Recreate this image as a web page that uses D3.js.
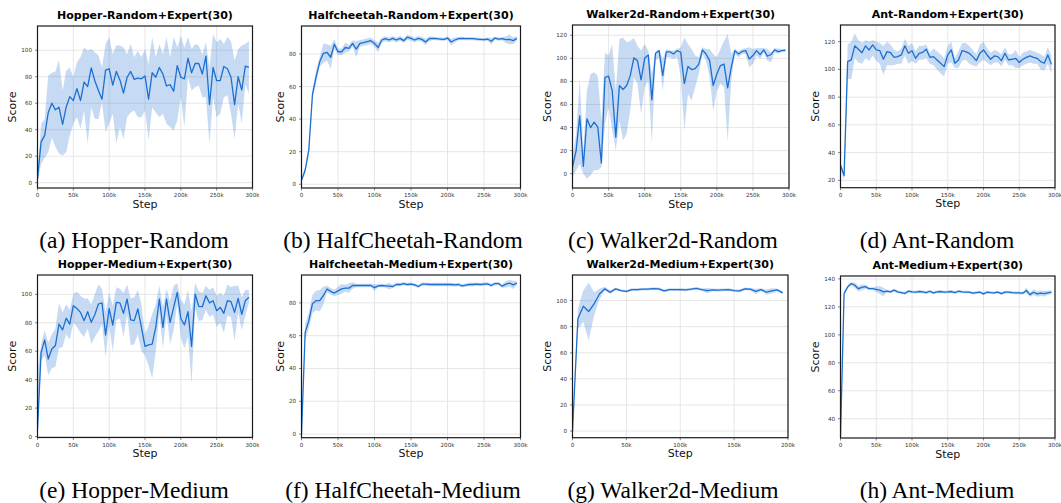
<!DOCTYPE html>
<html>
<head>
<meta charset="utf-8">
<script src="https://cdn.jsdelivr.net/npm/d3@7"></script>
<style>
  body { margin: 0; background: #fff; }
  svg { display: block; }
</style>
</head>
<body>
<div id="chart"></div>
<script>
// ---- data (score every 5k steps) ----
const steps300 = d3.range(0, 300000, 5000);
const steps200 = d3.range(0, 200000, 5000);

const xTicks300 = [0, 50000, 100000, 150000, 200000, 250000, 300000];
const xTicks200 = [0, 50000, 100000, 150000, 200000];

// (a) Hopper-Random
const hopRandMean = [3,30.6,35.7,53,60,55,57,44,57,65,62,71,62,76,72.6,86.7,77,69.6,63,85,86,73.6,84,77.6,67.6,79.6,84,78,79,78.4,80.6,63,83,79.6,87,82,73,74,69,88.4,79.6,78.4,94,83,90,90,82,95.5,59,87,77,77,87.7,86,79.6,59,80,70,88,87];
const hopRandLo = [0,14,19,23,34,27,22,20.6,23,35.7,44.5,49.5,40.7,54.5,29.4,57,48,48,60.8,38,44.5,52,29.4,42,33,49.5,53,54.5,49.5,49.5,54.5,32,57,53,49.5,52,44.5,42,39.4,47,64.5,42,79.6,69.6,72,73.4,64.5,64.5,29.4,64.5,49.5,52,64.5,66,52,33,59.5,44.5,74.6,67];
const hopRandHi = [5,44.5,48,81,83,84,92.7,69.6,84.6,87,79.6,91,94.7,102,99.7,101,98.5,96,87,104.8,110,97,103.5,103.5,102,97,104.8,94.7,99.7,94.7,101,89.7,110,94.7,104.8,97,110,94.7,110,102,111,102,110,101,104.8,103.5,97,106,87,112,106,108.5,104.8,110,107,92,101,103.5,104.8,107];
const hopRandTicks = [0, 20, 40, 60, 80, 100];

// (b) HalfCheetah-Random
const hcRandMean = [2.5,8.6,21,55,66,75.3,80.4,81,78,86,81.4,81.4,84,83.5,86.5,83,86.5,87,87.6,88.2,86.5,84,88.6,89.4,88.6,89.6,88.6,89.6,88.2,90.3,89.6,88.6,89.6,89,87.4,89.4,89.6,89.4,89.2,89,89.8,87.4,88.6,89.4,89.6,89.4,89.4,89.4,89.2,89,88.8,89.2,87.8,89.8,89.2,89.4,88.8,89,88.2,89.6];
const hcRandErr = [1,2,3,3,4,3,6,5,7,3,2,2,3,2,2,5,2,2,2,2,2,3,1.5,1.5,1.5,1.5,1.5,1.5,1.5,1.5,1.5,1.5,1.5,1.5,2,1.5,1,1,1,1,1,2,1.5,1,1,1,1,1,1,1,1,1,2,1,1,1,2,3,2,1.5];
const hcRandTicks = [0, 20, 40, 60, 80];

// (c) Walker2d-Random
const wkRandMean = [5.8,20,50,6.3,47.6,40,44.7,40.4,9.2,83.6,84.5,72,31.7,76.4,73,76.4,85,100.4,98,81.3,100,103,64,104.4,106.7,85,105.6,105.6,103.8,106.7,105.3,78,93,90.3,91,95,107.3,103.8,98,76.4,86.5,93.7,95,74.4,92.3,106.7,103.8,106,106.7,99.5,102.4,106.7,103.3,107.3,101.8,103.3,107.3,105.8,106.7,107];
const wkRandLo = [-3,3,8.7,0,-4.3,-1.4,3,3,5.8,43,57.7,37.5,20,46,28.8,34.6,54.8,83.6,78,52,75,80.8,26,98,101,72,101,101,99.5,101,83.6,37.5,69,63.5,75,86.5,103.8,98,83.6,54.8,72,78,75,27.4,80.8,103.8,101,103.8,103.8,92.3,95,102.4,99.5,105,98,96.6,105,103.8,105.5,106];
const wkRandHi = [15,34.6,82,20,72,86.5,88,85,46,105,102.4,112.5,72,116.8,118,114,115,117.7,111,106.7,112.5,106.7,86.5,105,108,99.5,108,106.7,106.7,108,109.6,118,112.5,108,102.4,101,109.6,108,108,103.8,101,108,115,121,103.8,108,106,108,108.7,109.6,108,109,109,109,108,105,109,108.5,108,108];
const wkRandTicks = [0, 20, 40, 60, 80, 100, 120];

// (d) Ant-Random
const antRandMean = [31,23.4,105.6,106.8,117,114.5,112,117,114,117.6,114,113.5,107.3,112.8,112,108.7,109.2,110.4,117,111.6,113.5,108,111.6,112.3,114.5,108.7,109.2,106.8,104.4,102,110.4,114,104.4,106.8,113.5,112.8,111.6,109.2,106.3,111.6,114,110.4,107.3,109.7,109.2,106.3,111.6,106.8,107.3,108,104.9,107.3,108.7,109.7,108.7,108,105.6,104.4,110.4,103.6];
const antRandLo = [28,20,93,93,108,105,104,108,106,110,106,104,96,103,103,103,104,104,110,104,106,104,107,107,108,104,103,100,97,95,104,105,101,101,106,107,104,103,102,105,107,105,103,105,105,102,107,103,103,101,101,103,104,105,104,104,100,99,104,97];
const antRandHi = [33,26,118,120,126,121,119,121,120,121,120,119,117,120,118,114,113,115,122,117,119,113,117,117,118,112,115,113,111,108,117,120,108,113,119,119,117,114,111,118,120,115,112,114,113,111,116,111,111,114,109,112,113,114,113,112,111,109,116,110];
const antRandTicks = [20, 40, 60, 80, 100, 120];

// (e) Hopper-Medium
const hopMedMean = [5,59,68,54.5,61.5,64,79,75,83.3,79,92,90,87.3,81.5,87.8,80.3,85.7,93.2,94,71.4,90,78.4,94.4,94,86.6,96.7,82,81.5,89.7,76.8,63.4,64.5,65,76.8,96.7,76.8,96.7,80.3,90.8,101.4,83,78.4,87.8,63.4,100.2,91.5,91.3,99,94,95.5,88.5,90.8,86.6,95.5,94.8,87.3,97.2,86,95.5,98];
const hopMedLo = [0,53,57,43,48,49,62,63,72,68,80,77,73,70,76,65,70,74,79,56,78,60,82,83,70,86,64,65,72,60,57,50,41,60,86,62,86,65,75,93,70,62,70,37,90,81,82,89,84,86,77,80,73,85,84,67,87,75,85,94];
const hopMedHi = [45,65,75,66,72,76,94,87,93,89,100,102,99,97,97,93,100,107,104,88,101,92,105,104,101,107,97,98,103,93,72,78,86,93,106,91,104,95,106,108,96,93,103,88,108,102,101,106,103,105,99,101,99,107,105,106,106,98,103,103];
const hopMedTicks = [0, 20, 40, 60, 80, 100];

// (f) HalfCheetah-Medium
const hcMedMean = [0,62,69,79.4,81.4,81.4,84.5,88.5,87,86,87.3,88.5,89,89,90.6,90.6,90.6,90.6,90.6,90.6,89.3,90.4,90.6,90.4,90.2,90,91.2,91.2,91.8,91.2,91.4,91,90,91.4,91.4,91.2,91.2,91.2,91.2,91.2,91.2,91.2,91,91.2,90.4,90.8,91.2,91.2,91.4,91.2,91.4,91.6,90.6,91.8,91.8,90.2,91.4,92,91,92];
const hcMedErr = [0.5,5,5,5.5,6,6.5,5.5,2,2,2,2.5,3,2,3,2,1,1,1,1,1,2,1,1,1,2,1,1,1,1,1,1,1,1,1,1,1,1,1,1,1,1,1,1,1,1,1,1,1,1,1,1,1,1,1,1,1,2,2,2.5,1];
const hcMedTicks = [0, 20, 40, 60, 80];

// (g) Walker2d-Medium (0 - 195k)
const wkMedMean = [0,86,95.7,91.6,97.4,105,109,106.4,109,107.7,107,108.4,108.4,108.7,108.7,109.2,109,107.4,108.4,108.4,108.4,108.2,108.7,109.4,108.4,107.7,108.2,108,108.2,108.4,107.7,107.4,109,108.7,107,108.4,106.4,107.4,108.2,105.9];
const wkMedErr = [0.5,8,12,22,9,4,1.5,1.5,1,1,1,1,1,1,1,1,1,1,1,1,1,1,1,1,1,2,1,1,1,1,1,1,1,1,2,1,2,2,1,1];
const wkMedTicks = [0, 20, 40, 60, 80, 100];

// (h) Ant-Medium
const antMedMean = [27,129.5,134.3,136.7,135.5,133,134,134.5,133,133,132.6,132,130.7,131.2,130.7,132,130.7,130.2,129.7,131.2,130.7,130.5,131,130.7,130.2,131.2,130,130.7,131,130.5,130.7,131,130.2,131.2,130.7,130.5,130.5,129.8,130.2,130.5,129.3,130.5,130.2,130,130.5,129.5,130.5,130.5,130.2,130,130,129.8,131.7,128.8,130.5,129.3,129.8,129.5,130,130.5];
const antMedErr = [2,1,1,1,2,2,2,1.5,1,1,2,3,3,1,1,1,1,1,1,1,1,1,1,1,1,1,1,1,1,1,1,1,1,1,1,1,1,1,1,1,1,1,1,1,1,1,1,1,1,1,1,1,2,1.5,2,2,2,2,1.5,1.5];
const antMedTicks = [40, 60, 80, 100, 120, 140];

// ---- helpers ----
function withErr(mean, err) {
  return { lo: mean.map((m, i) => m - err[i]), hi: mean.map((m, i) => m + err[i]) };
}
const hcRandBand = withErr(hcRandMean, hcRandErr);
const hcMedBand = withErr(hcMedMean, hcMedErr);
const wkMedBand = withErr(wkMedMean, wkMedErr);
const antMedBand = withErr(antMedMean, antMedErr);

// box = plot area [x, y, w, h]; capX = centre of the sub-figure caption
const panels = [
  { title: "Hopper-Random+Expert(30)", caption: "(a) Hopper-Random", steps: steps300, xTicks: xTicks300, xMax: 300000,
    mean: hopRandMean, lo: hopRandLo, hi: hopRandHi, yDomain: [-4, 118.3], yTicks: hopRandTicks, box: [37.5, 26, 215, 162], capX: 134 },
  { title: "Halfcheetah-Random+Expert(30)", caption: "(b) HalfCheetah-Random", steps: steps300, xTicks: xTicks300, xMax: 300000,
    mean: hcRandMean, lo: hcRandBand.lo, hi: hcRandBand.hi, yDomain: [-2.3, 97.2], yTicks: hcRandTicks, box: [301.5, 26, 219, 162], capX: 403 },
  { title: "Walker2d-Random+Expert(30)", caption: "(c) Walker2d-Random", steps: steps300, xTicks: xTicks300, xMax: 300000,
    mean: wkRandMean, lo: wkRandLo, hi: wkRandHi, yDomain: [-12.4, 128.9], yTicks: wkRandTicks, box: [572.5, 25, 216.5, 163], capX: 673 },
  { title: "Ant-Random+Expert(30)", caption: "(d) Ant-Random", steps: steps300, xTicks: xTicks300, xMax: 300000,
    mean: antRandMean, lo: antRandLo, hi: antRandHi, yDomain: [14.7, 132], yTicks: antRandTicks, box: [840.5, 25, 214.5, 162.7], capX: 937 },
  { title: "Hopper-Medium+Expert(30)", caption: "(e) Hopper-Medium", steps: steps300, xTicks: xTicks300, xMax: 300000,
    mean: hopMedMean, lo: hopMedLo, hi: hopMedHi, yDomain: [-0.7, 113.6], yTicks: hopMedTicks, box: [37.5, 275, 215, 162.5], capX: 134 },
  { title: "Halfcheetah-Medium+Expert(30)", caption: "(f) HalfCheetah-Medium", steps: steps300, xTicks: xTicks300, xMax: 300000,
    mean: hcMedMean, lo: hcMedBand.lo, hi: hcMedBand.hi, yDomain: [-2.2, 97], yTicks: hcMedTicks, box: [301.5, 275, 219, 162.7], capX: 403 },
  { title: "Walker2d-Medium+Expert(30)", caption: "(g) Walker2d-Medium", steps: steps200, xTicks: xTicks200, xMax: 200000,
    mean: wkMedMean, lo: wkMedBand.lo, hi: wkMedBand.hi, yDomain: [-5.1, 119.6], yTicks: wkMedTicks, box: [572.5, 275, 215.5, 162.7], capX: 673 },
  { title: "Ant-Medium+Expert(30)", caption: "(h) Ant-Medium", steps: steps300, xTicks: xTicks300, xMax: 300000,
    mean: antMedMean, lo: antMedBand.lo, hi: antMedBand.hi, yDomain: [26.2, 142.1], yTicks: antMedTicks, box: [840.5, 276, 214.5, 162], capX: 937 }
];

const W = 1061, H = 503;
const blue = "#1b6fd1";

const svg = d3.select("#chart").append("svg")
  .attr("width", W)
  .attr("height", H);

function fmtStep(v) {
  return v === 0 ? "0" : (v / 1000) + "k";
}

panels.forEach(function(p, k) {
  const [bx, by, bw, bh] = p.box;
  const x = d3.scaleLinear().domain([0, p.xMax]).range([bx, bx + bw]);
  const y = d3.scaleLinear().domain(p.yDomain).range([by + bh, by]);
  const g = svg.append("g");

  const clipId = "clip" + k;
  g.append("clipPath").attr("id", clipId)
    .append("rect").attr("x", bx).attr("y", by).attr("width", bw).attr("height", bh);

  // grid
  g.selectAll(".gx").data(p.xTicks).enter().append("line")
    .attr("x1", d => x(d)).attr("x2", d => x(d))
    .attr("y1", by).attr("y2", by + bh)
    .attr("stroke", "#e3e3e3").attr("stroke-width", 0.9);
  g.selectAll(".gy").data(p.yTicks).enter().append("line")
    .attr("x1", bx).attr("x2", bx + bw)
    .attr("y1", d => y(d)).attr("y2", d => y(d))
    .attr("stroke", "#e3e3e3").attr("stroke-width", 0.9);

  const rows = p.mean.map((m, i) => ({ s: p.steps[i], m: m, lo: p.lo[i], hi: p.hi[i] }));

  const area = d3.area()
    .x(d => x(d.s))
    .y0(d => y(d.lo))
    .y1(d => y(d.hi));
  const line = d3.line()
    .x(d => x(d.s))
    .y(d => y(d.m));

  const plot = g.append("g").attr("clip-path", "url(#" + clipId + ")");
  plot.append("path").datum(rows)
    .attr("d", area)
    .attr("fill", blue).attr("fill-opacity", 0.25);
  plot.append("path").datum(rows)
    .attr("d", line)
    .attr("fill", "none")
    .attr("stroke", blue).attr("stroke-width", 1.3)
    .attr("stroke-linejoin", "round");

  // frame
  g.append("rect")
    .attr("x", bx).attr("y", by).attr("width", bw).attr("height", bh)
    .attr("fill", "none").attr("stroke", "#1a1a1a").attr("stroke-width", 1.2);

  // ticks
  g.selectAll(".tx").data(p.xTicks).enter().append("line")
    .attr("x1", d => x(d)).attr("x2", d => x(d))
    .attr("y1", by + bh).attr("y2", by + bh + 2.5)
    .attr("stroke", "#333").attr("stroke-width", 0.6);
  g.selectAll(".lx").data(p.xTicks).enter().append("text")
    .attr("x", d => x(d)).attr("y", by + bh + 9.3)
    .attr("text-anchor", "middle")
    .attr("font-family", "DejaVu Sans").attr("font-size", 5.6).attr("fill", "#333")
    .text(fmtStep);

  g.selectAll(".ty").data(p.yTicks).enter().append("line")
    .attr("x1", bx - 2.5).attr("x2", bx)
    .attr("y1", d => y(d)).attr("y2", d => y(d))
    .attr("stroke", "#333").attr("stroke-width", 0.6);
  const yl = g.selectAll(".ly").data(p.yTicks).enter().append("text")
    .attr("x", bx - 5.5).attr("y", d => y(d) + 2)
    .attr("text-anchor", "end")
    .attr("font-family", "DejaVu Sans").attr("font-size", 5.6).attr("fill", "#333")
    .text(d => d);
  let maxW = 0;
  yl.each(function() { maxW = Math.max(maxW, this.getComputedTextLength()); });

  // axis titles
  g.append("text")
    .attr("transform", "translate(" + (bx - maxW - 10.5) + "," + (by + bh / 2) + ") rotate(-90)")
    .attr("text-anchor", "middle")
    .attr("font-family", "DejaVu Sans").attr("font-size", 11).attr("fill", "#111")
    .text("Score");
  g.append("text")
    .attr("x", bx + bw / 2).attr("y", by + bh + 19.5)
    .attr("text-anchor", "middle")
    .attr("font-family", "DejaVu Sans").attr("font-size", 11).attr("fill", "#111")
    .text("Step");

  // plot title
  g.append("text")
    .attr("x", bx + bw / 2).attr("y", by - 7)
    .attr("text-anchor", "middle")
    .attr("font-family", "DejaVu Sans").attr("font-weight", "bold")
    .attr("font-size", 11).attr("fill", "#000")
    .text(p.title);

  // sub-figure caption
  g.append("text")
    .attr("x", p.capX).attr("y", by < 100 ? 248 : 498)
    .attr("text-anchor", "middle")
    .attr("font-family", "Liberation Serif").attr("font-size", 23.5).attr("fill", "#000")
    .text(p.caption);
});
</script>
</body>
</html>
